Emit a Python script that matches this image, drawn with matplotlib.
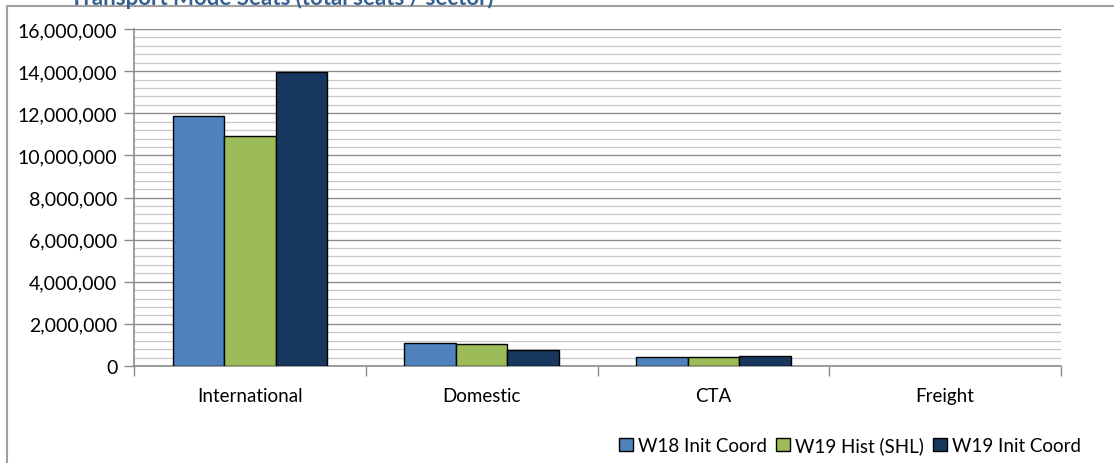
import numpy as np
import matplotlib.pyplot as plt
from matplotlib.ticker import MultipleLocator, FuncFormatter
from matplotlib.patches import Rectangle

# categories and series
categories = ['International', 'Domestic', 'CTA', 'Freight']
series_names = ['W18 Init Coord', 'W19 Hist (SHL)', 'W19 Init Coord']
w18_init = [11850000, 1100000, 420000, 0]
w19_hist = [10900000, 1050000, 420000, 0]
w19_init = [13950000, 750000, 480000, 0]
colours = ['#4F81BD', '#9BBB59', '#17375E']

plt.rcParams['font.family'] = ['Lato', 'DejaVu Sans']

W, H = 1114, 464
fig = plt.figure(figsize=(W / 100, H / 100), dpi=100)
# outer chart frame (runs past the right and bottom edges)
fig.patches.append(Rectangle((7 / W, -0.05), 1.2, 1 - 7 / H + 0.05,
                             transform=fig.transFigure, fill=False,
                             edgecolor='#A0A0A0', linewidth=1.5))
fig.text(70 / W, 1.0 + 13 / H, 'Transport Mode Seats (total seats / sector)',
         color='#366092', fontsize=16, fontweight='bold', va='top', ha='left')

ax = fig.add_axes([134 / W, 1 - 367 / H, (1061 - 134) / W, (367 - 30) / H])

x = np.arange(len(categories))
bw = 1 / 4.5
for i, vals in enumerate([w18_init, w19_hist, w19_init]):
    lw = [1.0 if v > 0 else 0 for v in vals]
    ax.bar(x + (i - 1) * bw, vals, bw, color=colours[i], edgecolor='black',
           linewidth=lw, label=series_names[i], zorder=3)

ax.set_xlim(-0.5, len(categories) - 0.5)
ax.set_ylim(0, 16000000)
ax.yaxis.set_major_locator(MultipleLocator(2000000))
ax.yaxis.set_minor_locator(MultipleLocator(400000))
ax.yaxis.set_major_formatter(FuncFormatter(lambda v, p: f'{int(v):,}'))
ax.grid(which='major', axis='y', color='#8C8C8C', linewidth=1.0, zorder=0)
ax.grid(which='minor', axis='y', color='#C8C8C8', linewidth=0.9, zorder=0)

ax.set_xticks(x)
ax.set_xticklabels(categories)
ax.set_xticks(np.arange(-0.5, len(categories)), minor=True)
ax.tick_params(axis='x', which='major', length=0, pad=15, labelsize=13.5)
ax.tick_params(axis='x', which='minor', length=7, color='#8C8C8C', width=1)
ax.tick_params(axis='y', which='major', length=7, color='#8C8C8C', width=1,
               labelsize=14, pad=5)
ax.tick_params(axis='y', which='minor', length=0)

for s in ['top', 'right']:
    ax.spines[s].set_visible(False)
for s in ['left', 'bottom']:
    ax.spines[s].set_color('#8C8C8C')
    ax.spines[s].set_linewidth(1.2)

leg = ax.legend(loc='center', bbox_to_anchor=(850 / W, 1 - 446 / H),
                bbox_transform=fig.transFigure, ncol=3, frameon=False,
                fontsize=13.5, handlelength=0.75, handleheight=0.75,
                handletextpad=0.25, columnspacing=0.5)

fig.savefig('out.png', dpi=100)
